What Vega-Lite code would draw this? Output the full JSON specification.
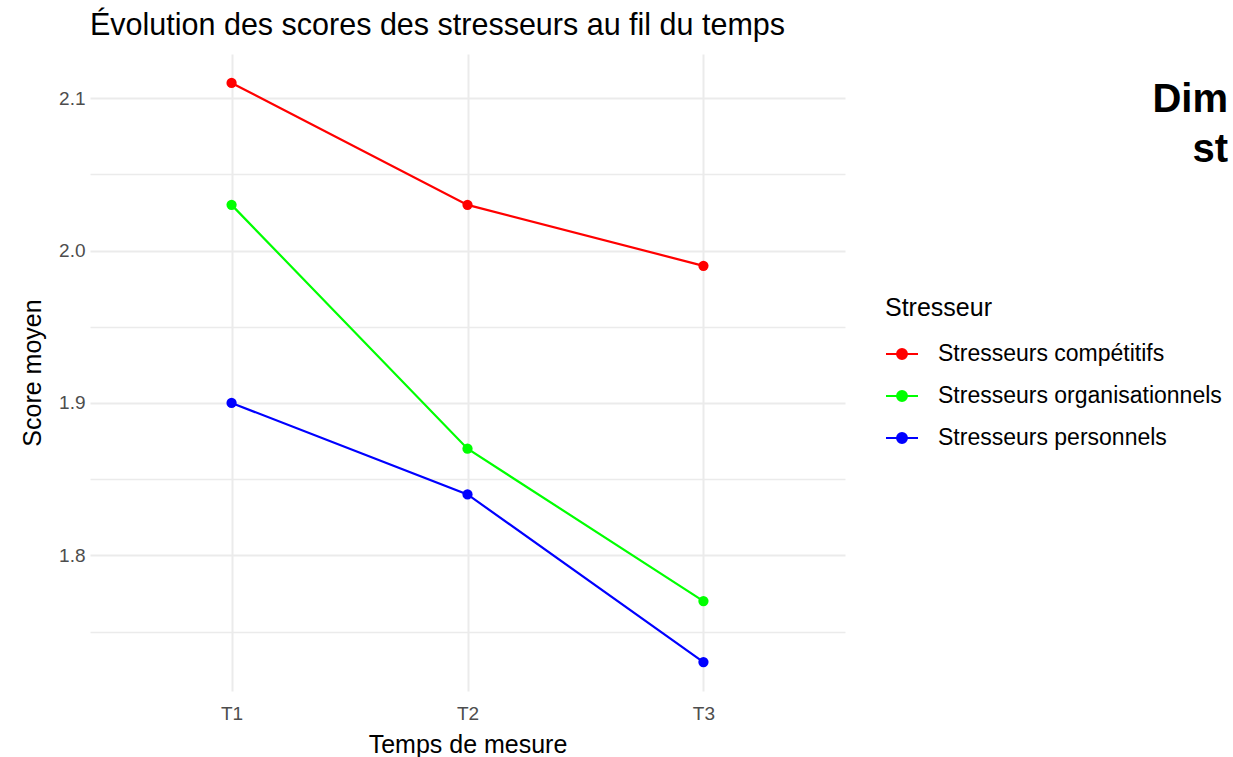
{
  "$schema": "https://vega.github.io/schema/vega-lite/v6.json",
  "background": "white",
  "padding": {"left": 20, "top": 10, "right": 5, "bottom": 2},
  "config": {"font": "Liberation Sans", "view": {"stroke": null}},
  "bounds": "flush",
  "spacing": 283,
  "hconcat": [
    {
      "width": 755,
      "height": 637,
      "title": {"text": "Évolution des scores des stresseurs au fil du temps", "anchor": "start", "frame": "group", "fontSize": 30.5, "fontWeight": "normal", "color": "black", "offset": 13},
      "data": {"values": [
        {"temps": "T1", "stresseur": "Stresseurs compétitifs", "score": 2.11},
        {"temps": "T2", "stresseur": "Stresseurs compétitifs", "score": 2.03},
        {"temps": "T3", "stresseur": "Stresseurs compétitifs", "score": 1.99},
        {"temps": "T1", "stresseur": "Stresseurs organisationnels", "score": 2.03},
        {"temps": "T2", "stresseur": "Stresseurs organisationnels", "score": 1.87},
        {"temps": "T3", "stresseur": "Stresseurs organisationnels", "score": 1.77},
        {"temps": "T1", "stresseur": "Stresseurs personnels", "score": 1.90},
        {"temps": "T2", "stresseur": "Stresseurs personnels", "score": 1.84},
        {"temps": "T3", "stresseur": "Stresseurs personnels", "score": 1.73}
      ]},
      "encoding": {
        "x": {
          "field": "temps", "type": "ordinal",
          "scale": {"type": "point", "padding": 0.6},
          "axis": {"title": "Temps de mesure", "labelAngle": 0, "labelFontSize": 19, "labelColor": "#4d4d4d", "titleFontSize": 25, "titleFontWeight": "normal", "titleColor": "black", "domain": false, "ticks": false, "labelPadding": 13, "titlePadding": 9, "grid": true, "gridColor": "#ebebeb", "gridWidth": 2}
        },
        "y": {
          "field": "score", "type": "quantitative",
          "scale": {"domain": [1.711, 2.129], "nice": false, "zero": false},
          "axis": {
            "title": "Score moyen", "titleFontSize": 25, "titleFontWeight": "normal", "titleColor": "black",
            "labelFontSize": 19, "labelColor": "#4d4d4d",
            "values": [1.75, 1.8, 1.85, 1.9, 1.95, 2.0, 2.05, 2.1],
            "labelExpr": "abs(datum.value*10 - round(datum.value*10)) < 0.01 ? format(datum.value, '.1f') : ''",
            "domain": false, "ticks": false, "labelPadding": 5, "titlePadding": 13,
            "gridColor": "#ebebeb",
            "gridWidth": {"condition": {"test": "abs(datum.value*10 - round(datum.value*10)) < 0.01", "value": 2}, "value": 1.5}
          }
        },
        "color": {
          "field": "stresseur", "type": "nominal",
          "scale": {"domain": ["Stresseurs compétitifs", "Stresseurs organisationnels", "Stresseurs personnels"], "range": ["#ff0000", "#00ff00", "#0000ff"]},
          "legend": {
            "orient": "none", "legendX": 795, "legendY": 242,
            "title": "Stresseur", "titleFontSize": 25, "titleFontWeight": "normal", "titleColor": "black", "titlePadding": 16,
            "labelFontSize": 23, "labelColor": "black", "labelOffset": 19, "labelLimit": 500,
            "symbolType": "M-1,0L1,0M-0.31,0A0.31,0.31 0 1,1 0.31,0A0.31,0.31 0 1,1 -0.31,0Z",
            "symbolSize": 1024, "symbolStrokeWidth": 2, "rowPadding": 13,
            "encode": {"symbols": {"update": {"fill": {"scale": "color", "field": "value"}, "stroke": {"scale": "color", "field": "value"}, "fillOpacity": {"value": 1}}}}
          }
        }
      },
      "layer": [
        {"mark": {"type": "line", "strokeWidth": 2.2}},
        {"mark": {"type": "circle", "size": 105, "opacity": 1}}
      ]
    },
    {
      "width": 100,
      "height": 100,
      "data": {"values": [{"t": "Dim", "r": "1"}, {"t": "st", "r": "2"}]},
      "mark": {"type": "text", "align": "right", "baseline": "alphabetic", "fontSize": 40, "fontWeight": "bold", "dy": 33, "color": "black"},
      "encoding": {
        "text": {"field": "t"},
        "y": {"field": "r", "type": "ordinal", "axis": null},
        "x": {"datum": 1, "type": "quantitative", "scale": {"domain": [0, 1]}, "axis": null}
      }
    }
  ]
}
